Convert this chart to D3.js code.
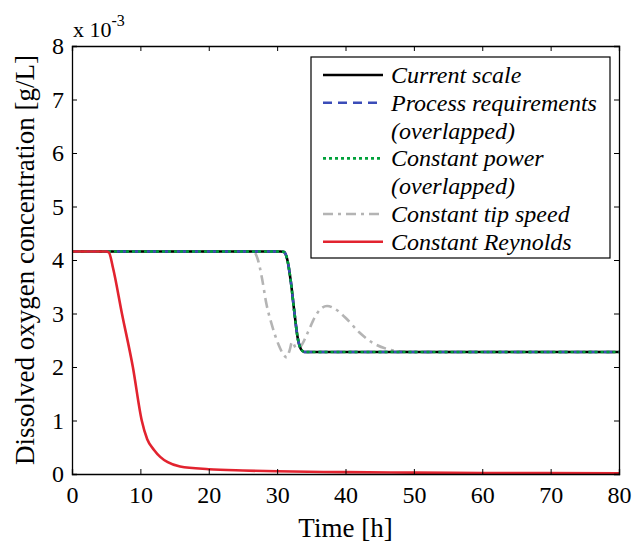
<!DOCTYPE html>
<html>
<head>
<meta charset="utf-8">
<script src="https://cdn.jsdelivr.net/npm/d3@7"></script>
<style>
  body { margin: 0; background: #fff; }
  svg text { font-family: "Liberation Serif", "Times New Roman", serif; fill: #000; }
</style>
</head>
<body>
<svg id="chart"></svg>
<script>
// Time (h) and dissolved oxygen (x 10^-3 g/L)
const currentT = [0, 30.5, 31.0, 31.5, 32.0, 32.5, 33.0, 33.5, 34.0, 35, 80];
const currentY = [4.16, 4.16, 4.15, 4.0, 3.6, 3.05, 2.55, 2.33, 2.28, 2.28, 2.28];

const tipT = [0, 26.5, 27.2, 27.8, 28.4, 29.2, 30.2, 31.0, 31.4, 31.8, 32.2, 32.8, 33.4, 34.5, 35.5, 36.5, 37.3, 38.3, 40, 42, 44, 46, 48, 50, 55, 80];
const tipY = [4.16, 4.16, 4.0, 3.65, 3.2, 2.8, 2.42, 2.22, 2.18, 2.3, 2.47, 2.35, 2.38, 2.65, 2.93, 3.1, 3.14, 3.1, 2.92, 2.65, 2.45, 2.34, 2.29, 2.28, 2.28, 2.28];

const reyT = [0, 5.0, 5.4, 6.0, 7.3, 8.9, 10.2, 11, 12, 12.9, 14, 15.8, 20, 25, 30, 40, 50, 60, 80];
const reyY = [4.16, 4.16, 4.14, 3.85, 3.0, 2.0, 1.0, 0.65, 0.45, 0.32, 0.22, 0.14, 0.09, 0.065, 0.05, 0.035, 0.025, 0.02, 0.015];

const xTicks = [0, 10, 20, 30, 40, 50, 60, 70, 80];
const yTicks = [0, 1, 2, 3, 4, 5, 6, 7, 8];

const legendLabels = [
  ["Current scale"],
  ["Process requirements", "(overlapped)"],
  ["Constant power", "(overlapped)"],
  ["Constant tip speed"],
  ["Constant Reynolds"]
];

const zip = (t, y) => t.map((d, i) => ({t: d, y: y[i]}));

const series = [
  {key: "current", data: zip(currentT, currentY), color: "#000000", dash: null},
  {key: "process", data: zip(currentT, currentY), color: "#3b4cb8", dash: "9,6"},
  {key: "power", data: zip(currentT, currentY), color: "#00a13a", dash: "3,3"},
  {key: "tip", data: zip(tipT, tipY), color: "#b4b4b4", dash: "10,5,3,5"},
  {key: "reynolds", data: zip(reyT, reyY), color: "#e2232f", dash: null}
];

const W = 633, H = 546;
const margin = {top: 46, right: 14, bottom: 72, left: 72};
const width = W - margin.left - margin.right;
const height = H - margin.top - margin.bottom;
const serif = '"Liberation Serif", "Times New Roman", serif';

const svg = d3.select("#chart").attr("width", W).attr("height", H);
const g = svg.append("g").attr("transform", `translate(${margin.left},${margin.top})`);

const x = d3.scaleLinear().domain([0, 80]).range([0, width]);
const y = d3.scaleLinear().domain([0, 8]).range([height, 0]);

// lines, red on top
const line = d3.line().x(d => x(d.t)).y(d => y(d.y)).curve(d3.curveMonotoneX);
["tip", "current", "process", "power", "reynolds"].forEach(k => {
  const s = series.find(d => d.key === k);
  g.append("path")
    .datum(s.data)
    .attr("fill", "none")
    .attr("stroke", s.color)
    .attr("stroke-width", 2.6)
    .attr("stroke-dasharray", s.dash)
    .attr("d", line);
});

// axes: inward ticks, box on all four sides
const style = a => {
  a.attr("font-family", serif).attr("font-size", 24);
  a.select(".domain").attr("stroke-width", 1.3);
};
g.append("g").attr("transform", `translate(0,${height})`)
  .call(d3.axisBottom(x).tickValues(xTicks).tickSize(-5).tickPadding(12))
  .call(style);
g.append("g")
  .call(d3.axisLeft(y).tickValues(yTicks).tickSize(-5).tickPadding(8))
  .call(style);
g.append("g")
  .call(d3.axisTop(x).tickValues(xTicks).tickSize(-5).tickFormat(""))
  .call(style);
g.append("g").attr("transform", `translate(${width},0)`)
  .call(d3.axisRight(y).tickValues(yTicks).tickSize(-5).tickFormat(""))
  .call(style);

// exponent label
const expo = svg.append("text").attr("x", 73).attr("y", 37).style("font-size", "22px");
expo.append("tspan").text("x 10");
expo.append("tspan").attr("dy", -11).style("font-size", "16px").text("-3");

// axis titles
svg.append("text")
  .attr("transform", `translate(34,${margin.top + height / 2}) rotate(-90)`)
  .attr("text-anchor", "middle")
  .style("font-size", "27px")
  .text("Dissolved oxygen concentration [g/L]");
svg.append("text")
  .attr("x", margin.left + width / 2)
  .attr("y", 537)
  .attr("text-anchor", "middle")
  .style("font-size", "27px")
  .text("Time [h]");

// legend
const lg = svg.append("g").attr("transform", "translate(311,57)");
lg.append("rect").attr("width", 299).attr("height", 201)
  .attr("fill", "#fff").attr("stroke", "#000").attr("stroke-width", 1.2);
let row = 0;
const rowH = 27.8;
series.forEach((s, i) => {
  const yy = 18 + row * rowH;
  lg.append("line").attr("x1", 12).attr("x2", 72).attr("y1", yy).attr("y2", yy)
    .attr("stroke", s.color).attr("stroke-width", 2.6).attr("stroke-dasharray", s.dash);
  legendLabels[i].forEach((txt, j) => {
    lg.append("text").attr("x", 80).attr("y", yy + j * rowH + 8)
      .style("font-size", "24px").style("font-style", "italic").text(txt);
  });
  row += legendLabels[i].length;
});
</script>
</body>
</html>
